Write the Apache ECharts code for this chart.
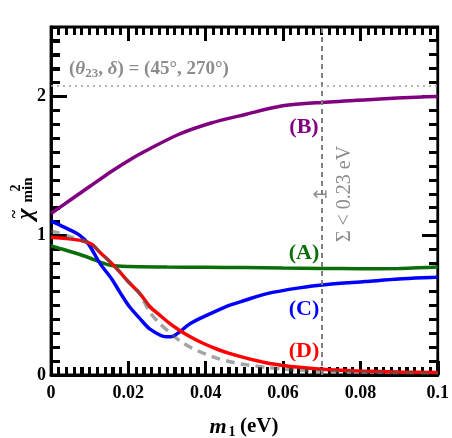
<!DOCTYPE html>
<html>
<head>
<meta charset="utf-8">
<script src="https://cdn.jsdelivr.net/npm/echarts@6/dist/echarts.min.js"></script>
<style>html,body{margin:0;padding:0;background:#fff}#c{width:452px;height:438px}</style>
</head>
<body>
<div id="c"></div>
<script>
// ---- data (m1 in eV, reduced chi^2 min) ----
const xTicks = [0, 0.02, 0.04, 0.06, 0.08, 0.1];
const yTicks = [0, 1, 2];
const yMax = 2.5;
const xMinorStep = 0.002;
const yMinorStep = 0.1;

const mA = [0, 0.0028, 0.0071, 0.0114, 0.0127, 0.0157, 0.02, 0.03, 0.04, 0.05, 0.06, 0.07, 0.08, 0.09, 0.095, 0.1];
const chiA = [0.93, 0.905, 0.869, 0.826, 0.81, 0.786, 0.779, 0.776, 0.774, 0.772, 0.768, 0.765, 0.764, 0.765, 0.77, 0.775];

const mB = [0, 0.005, 0.01, 0.0157, 0.02, 0.0243, 0.0328, 0.0414, 0.05, 0.0599, 0.071, 0.083, 0.096, 0.1];
const chiB = [1.16, 1.257, 1.354, 1.464, 1.54, 1.607, 1.726, 1.81, 1.87, 1.934, 1.96, 1.98, 1.998, 2.0];

const mC = [0, 0.0028, 0.0071, 0.0097, 0.0127, 0.0157, 0.0178, 0.0203, 0.023, 0.0256, 0.0298, 0.0315, 0.0333, 0.0355, 0.0384, 0.0427, 0.0461, 0.05, 0.0556, 0.0642, 0.0714, 0.0813, 0.0899, 0.0993, 0.1];
const chiC = [1.105, 1.07, 1.01, 0.94, 0.80, 0.69, 0.595, 0.49, 0.405, 0.33, 0.274, 0.278, 0.31, 0.36, 0.405, 0.46, 0.5, 0.535, 0.583, 0.626, 0.65, 0.671, 0.69, 0.702, 0.703];

const mD = [0, 0.004, 0.008, 0.0105, 0.0127, 0.015, 0.0178, 0.02, 0.023, 0.0256, 0.0281, 0.0305, 0.0333, 0.036, 0.0393, 0.043, 0.0461, 0.05, 0.0556, 0.06, 0.0642, 0.07, 0.075, 0.08, 0.09, 0.1];
const chiD = [0.99, 0.98, 0.965, 0.94, 0.88, 0.82, 0.74, 0.67, 0.585, 0.49, 0.43, 0.375, 0.32, 0.275, 0.228, 0.185, 0.155, 0.125, 0.088, 0.068, 0.055, 0.042, 0.034, 0.028, 0.022, 0.018];

const mRef = [0, 0.002, 0.004, 0.008, 0.0105, 0.0127, 0.015, 0.0178, 0.02, 0.023, 0.0256, 0.0281, 0.0305, 0.0333, 0.036, 0.0393, 0.043, 0.0461, 0.05, 0.0556, 0.06, 0.0642, 0.07, 0.08, 0.09, 0.1];
const chiRef = [1.035, 1.02, 1.0, 0.97, 0.94, 0.88, 0.82, 0.74, 0.67, 0.58, 0.45, 0.37, 0.31, 0.245, 0.2, 0.158, 0.12, 0.097, 0.075, 0.055, 0.042, 0.034, 0.026, 0.02, 0.016, 0.014];

const sigmaLimitM1 = 0.0714;   // Sigma < 0.23 eV
const chiMaxMix = 2.08;        // (theta23, delta) = (45, 270)

// ---- build ----
const zip = (xs, ys) => xs.map((x, i) => [x, ys[i]]);
const SERIF = 'Liberation Serif';
const isNear = (v, arr) => arr.some(t => Math.abs(v - t) < 1e-9);
const xMin = xTicks[0], xMax = xTicks[xTicks.length - 1];
const TICK_COLOR = '#000';
const TW = 3;

const xTickVals = [];
for (let i = 0; i <= Math.round((xMax - xMin) / xMinorStep); i++) xTickVals.push(xMin + i * xMinorStep);
const yTickVals = [];
for (let j = 0; j <= Math.round(yMax / yMinorStep); j++) yTickVals.push(j * yMinorStep);

function tickRects(toPx) {
  const out = [];
  const rect = (x, y, w, h) => out.push({type: 'rect', shape: {x: Math.round(x), y: Math.round(y), width: w, height: h}, style: {fill: TICK_COLOR}});
  xTickVals.forEach(v => {
    const L = isNear(v, xTicks) ? 14 : 8;
    const pb = toPx([v, 0]), pt = toPx([v, yMax]);
    rect(pb[0] - TW / 2, pb[1] - L, TW, L);
    rect(pt[0] - TW / 2, pt[1], TW, L);
  });
  yTickVals.forEach(v => {
    const L = isNear(v, yTicks) ? 16 : 9;
    const pl = toPx([xMin, v]), pr = toPx([xMax, v]);
    rect(pl[0], pl[1] - TW / 2, L, TW);
    rect(pr[0] - L, pr[1] - TW / 2, L, TW);
  });
  return out;
}

const chart = echarts.init(document.getElementById('c'));

const labelGraphics = [
  {type: 'text', left: 69, top: 60, style: {
    text: '{p|(}{i|θ}{s|23}{p|, }{i|δ}{p|) = (45°, 270°)}',
    rich: {
      p: {fontFamily: SERIF, fontSize: 19, fill: '#8c8c8c', fontWeight: 'bold'},
      i: {fontFamily: SERIF, fontSize: 19, fill: '#8c8c8c', fontStyle: 'italic', fontWeight: 'bold'},
      s: {fontFamily: SERIF, fontSize: 13, fill: '#8c8c8c', fontWeight: 'bold', padding: [8, 0, 0, 0]}
    }}},
  {type: 'text', x: 304, y: 127, style: {text: '(B)', font: 'bold 22px ' + SERIF, fill: '#800080', align: 'center', verticalAlign: 'middle'}},
  {type: 'text', x: 304, y: 253, style: {text: '(A)', font: 'bold 22px ' + SERIF, fill: '#0b6e0b', align: 'center', verticalAlign: 'middle'}},
  {type: 'text', x: 304, y: 309, style: {text: '(C)', font: 'bold 22px ' + SERIF, fill: '#0000ff', align: 'center', verticalAlign: 'middle'}},
  {type: 'text', x: 304, y: 351, style: {text: '(D)', font: 'bold 22px ' + SERIF, fill: '#ff0000', align: 'center', verticalAlign: 'middle'}},
  {type: 'text', x: 345, y: 194, rotation: Math.PI / 2, style: {text: 'Σ < 0.23 eV', font: '20px ' + SERIF, fill: '#8c8c8c', align: 'center', verticalAlign: 'middle'}},
  {type: 'text', x: 320, y: 195, style: {text: '↤', font: '18px DejaVu Sans', fill: '#8c8c8c', align: 'center', verticalAlign: 'middle'}},
  // y axis title
  {type: 'text', x: 26, y: 214, rotation: Math.PI / 2, style: {text: 'χ', font: 'italic bold 24px ' + SERIF, fill: '#000', align: 'center', verticalAlign: 'middle'}},
  {type: 'text', x: 15, y: 214, rotation: Math.PI / 2, style: {text: '~', font: 'bold 16px ' + SERIF, fill: '#000', align: 'center', verticalAlign: 'middle'}},
  {type: 'text', x: 16, y: 188, rotation: Math.PI / 2, style: {text: '2', font: 'bold 14px ' + SERIF, fill: '#000', align: 'center', verticalAlign: 'middle'}},
  {type: 'text', x: 28, y: 190, rotation: Math.PI / 2, style: {text: 'min', font: 'bold 15px ' + SERIF, fill: '#000', align: 'center', verticalAlign: 'middle'}},
  // x axis title
  {type: 'text', x: 218, y: 427, style: {text: 'm', font: 'italic bold 22px ' + SERIF, fill: '#000', align: 'center', verticalAlign: 'middle'}},
  {type: 'text', x: 232, y: 432, style: {text: '1', font: 'bold 14px ' + SERIF, fill: '#000', align: 'center', verticalAlign: 'middle'}},
  {type: 'text', x: 240, y: 427, style: {text: '(eV)', font: 'bold 21px ' + SERIF, fill: '#000', align: 'left', verticalAlign: 'middle'}}
];

const option = {
  animation: false,
  grid: {left: 51, right: 13, top: 27, bottom: 63, show: true, borderColor: '#000', borderWidth: 2.8},
  xAxis: {
    type: 'value', min: xMin, max: xMax, interval: xTicks[1] - xTicks[0],
    axisLine: {show: true, lineStyle: {color: '#000', width: 2.8}},
    axisTick: {show: true, inside: true, length: 14, lineStyle: {color: TICK_COLOR, width: TW}},
    minorTick: {show: true, splitNumber: 10, length: 8, lineStyle: {color: TICK_COLOR, width: TW}},
    axisLabel: {show: true, margin: 9, color: '#000', fontFamily: SERIF, fontWeight: 'bold', fontSize: 18,
      formatter: v => String(+v.toFixed(4))},
    splitLine: {show: false}
  },
  yAxis: {
    type: 'value', min: 0, max: yMax, interval: yMinorStep,
    axisLine: {show: true, lineStyle: {color: '#000', width: 2.8}},
    axisTick: {show: true, inside: true, length: 9, lineStyle: {color: TICK_COLOR, width: TW}},
    axisLabel: {show: true, margin: 5, color: '#000', fontFamily: SERIF, fontWeight: 'bold', fontSize: 18,
      formatter: v => isNear(v, yTicks) ? String(Math.round(v)) : ''},
    splitLine: {show: false}
  },
  series: [
    {type: 'line', name: 'A', data: zip(mA, chiA), showSymbol: false, smooth: 0.3,
      lineStyle: {color: '#0b6e0b', width: 3.5}},
    {type: 'line', name: 'B', data: zip(mB, chiB), showSymbol: false, smooth: 0.3,
      lineStyle: {color: '#800080', width: 3.5}},
    {type: 'line', name: 'C', data: zip(mC, chiC), showSymbol: false, smooth: 0.3,
      lineStyle: {color: '#0000ff', width: 3.5}},
    {type: 'line', name: 'D', data: zip(mD, chiD), showSymbol: false, smooth: 0.3,
      lineStyle: {color: '#ff0000', width: 3.5}},
    {type: 'line', name: 'ref', data: zip(mRef, chiRef), showSymbol: false, smooth: 0.3,
      lineStyle: {color: 'rgba(90,90,90,0.55)', width: 3.5, type: [9, 6]},
      markLine: {
        silent: true, symbol: 'none', label: {show: false},
        data: [
          {xAxis: sigmaLimitM1, lineStyle: {color: '#808080', width: 2, type: [5, 4]}},
          {yAxis: chiMaxMix, lineStyle: {color: '#9a9a9a', width: 1.5, type: [2, 4]}}
        ]
      }},
    {type: 'custom', name: 'frameTicks', coordinateSystem: 'cartesian2d', data: [[0.05, 1]],
      renderItem: (params, api) => ({type: 'group', children: tickRects(p => api.coord(p))})}
  ],
  graphic: labelGraphics
};
chart.setOption(option);
chart.setOption({graphic: labelGraphics.concat(tickRects(p => chart.convertToPixel({gridIndex: 0}, p)))});
</script>
</body>
</html>
